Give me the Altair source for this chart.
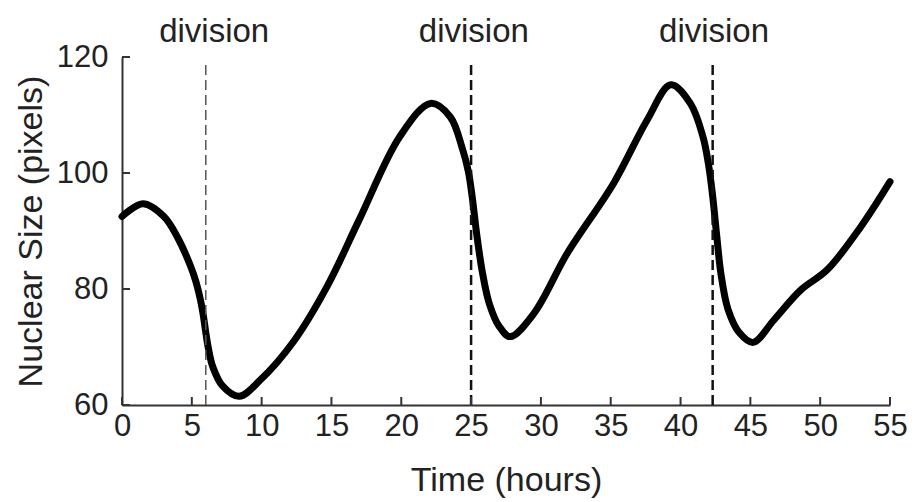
import altair as alt
import pandas as pd

# ---- data ----
time_h = [0, 1.5, 3.0, 4.0, 4.9, 5.3, 5.6, 5.8, 6.0, 6.2, 6.5, 7.2, 8.4, 9.9, 12.3, 14.7,
          17.0, 19.9, 22.1, 23.5, 24.4, 24.8, 25.1, 25.4, 25.8, 26.3, 27.0, 27.8, 29.5,
          31.9, 35.2, 37.6, 39.3, 40.7, 41.6, 42.0, 42.3, 42.6, 42.9, 43.4, 44.2, 45.2,
          46.7, 48.6, 50.5, 52.9, 55.0]
nuclear_size = [92.5, 94.7, 92.5, 88.8, 84.0, 81.2, 78.3, 75.8, 72.5, 69.6, 66.6, 63.3,
                61.5, 64.3, 71.0, 80.5, 92.0, 106.3, 112.0, 109.7, 104.0, 100.3, 95.5,
                89.5, 83.0, 77.5, 73.6, 71.8, 75.8, 86.2, 98.2, 109.1, 115.2, 112.0,
                106.3, 101.5, 96.0, 89.0, 82.5, 76.5, 72.5, 70.8, 74.7, 79.8, 83.3,
                90.7, 98.5]
division_times = [6.0, 25.0, 42.3]
division_label_times = [6.6, 25.2, 42.4]
division_labels = ["division", "division", "division"]
division_top = 118.6
x_ticks = [0, 5, 10, 15, 20, 25, 30, 35, 40, 45, 50, 55]
y_ticks = [60, 80, 100, 120]

W, H = 768, 348
FONT = "Liberation Sans"
xs = alt.Scale(domain=[0, 55], nice=False, zero=False)
ys = alt.Scale(domain=[60, 120], nice=False, zero=False)
x_axis = alt.Axis(values=x_ticks, title="Time (hours)", ticks=False, grid=False,
                  labelPadding=6, labelFlush=False, labelOverlap=False,
                  titleBaseline="alphabetic", titleY=85)
y_axis = alt.Axis(values=y_ticks, title="Nuclear Size (pixels)", ticks=False,
                  grid=False, labelPadding=14, labelFlush=False, labelOverlap=False,
                  titleBaseline="alphabetic", titleX=-81)

curve = pd.DataFrame({"t": time_h, "s": nuclear_size})
div = pd.DataFrame({"t": division_times, "s": [60] * 3, "top": [division_top] * 3})
lab = pd.DataFrame({"t": division_label_times, "label": division_labels})
xt = pd.DataFrame({"t": x_ticks})
yt = pd.DataFrame({"s": y_ticks})

line = alt.Chart(curve).mark_line(color="black", strokeWidth=7, interpolate="catmull-rom",
                                  strokeCap="round", strokeJoin="round").encode(
    x=alt.X("t:Q", scale=xs, axis=x_axis),
    y=alt.Y("s:Q", scale=ys, axis=y_axis),
)

rules = alt.Chart(div).mark_rule(strokeDash=[10, 5]).encode(
    x=alt.X("t:Q", scale=xs, axis=x_axis),
    y=alt.Y("s:Q", scale=ys, axis=y_axis),
    y2="top:Q",
    strokeWidth=alt.condition("datum.t < 10", alt.value(1.5), alt.value(2.5)),
    color=alt.condition("datum.t < 10", alt.value("#555555"), alt.value("#111111")),
)

labels = alt.Chart(lab).mark_text(font=FONT, fontSize=33, color="#222222",
                                  baseline="alphabetic", align="center").encode(
    x=alt.X("t:Q", scale=xs, axis=x_axis),
    y=alt.value(-15),
    text="label:N",
)

xtick_marks = alt.Chart(xt).mark_rule(color="#333333", strokeWidth=2).encode(
    x=alt.X("t:Q", scale=xs, axis=x_axis),
    y=alt.value(H),
    y2=alt.value(H - 8),
)
ytick_marks = alt.Chart(yt).mark_rule(color="#333333", strokeWidth=2).encode(
    y=alt.Y("s:Q", scale=ys, axis=y_axis),
    x=alt.value(0),
    x2=alt.value(8),
)

chart = alt.layer(line, rules, xtick_marks, ytick_marks, labels).properties(
    width=W, height=H,
    background="white",
    autosize=alt.AutoSizeParams(type="none"),
    padding={"left": 122, "top": 57, "right": 25, "bottom": 97},
).configure_view(strokeWidth=0).configure_axis(
    domainColor="#333333", domainWidth=2,
    labelFont=FONT, labelFontSize=31, labelColor="#222222",
    titleFont=FONT, titleFontSize=34, titleColor="#222222", titleFontWeight="normal",
)

chart.save("out.html", embed_options={"renderer": "svg", "actions": False})
